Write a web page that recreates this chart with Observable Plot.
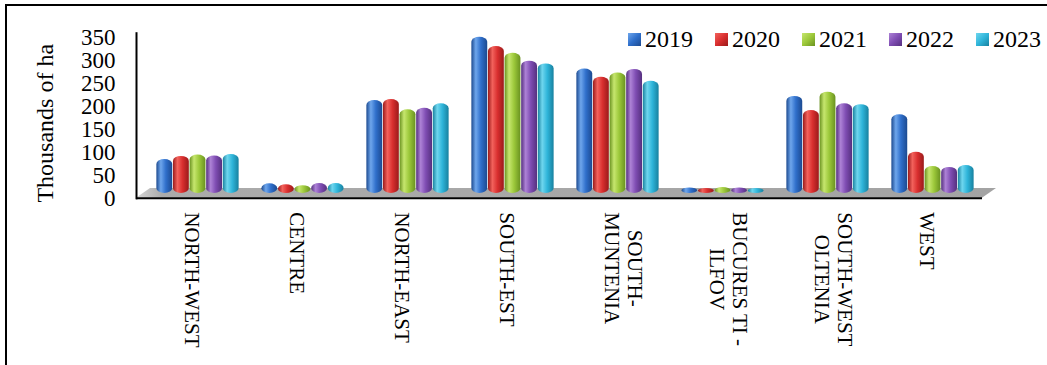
<!DOCTYPE html>
<html>
<head>
<meta charset="utf-8">
<script src="https://cdn.jsdelivr.net/npm/d3@7"></script>
<script src="https://cdn.jsdelivr.net/npm/@observablehq/plot@0.6"></script>
<style>
  html, body { margin: 0; padding: 0; background: #fff; }
  #wrap { position: relative; width: 1047px; height: 365px; overflow: hidden;
          font-family: "Liberation Serif", "Times New Roman", serif; }
  #chart { position: absolute; left: 0; top: 0; }
  #border { position: absolute; left: 5px; top: 4px; right: -10px; bottom: -10px;
            border-left: 2px solid #000; border-top: 2px solid #000; pointer-events: none; }
  #legend { position: absolute; left: 628px; top: 25px; height: 29px; display: flex; }
  .item { width: 87px; display: flex; align-items: center; font-size: 24px; color: #000; }
  .sw { width: 13px; height: 13px; margin-right: 4px; }
</style>
</head>
<body>
<div id="wrap">
  <div id="chart"></div>
  <div id="legend"></div>
  <div id="border"></div>
</div>
<script>
// Regions (line breaks as printed under the axis)
const regions = [
  "NORTH-WEST",
  "CENTRE",
  "NORTH-EAST",
  "SOUTH-EST",
  "SOUTH-\nMUNTENIA",
  "BUCURES TI -\nILFOV",
  "SOUTH-WEST\nOLTENIA",
  "WEST"
];
const years = ["2019", "2020", "2021", "2022", "2023"];

// Thousands of ha, one value per region
const v2019 = [74, 21, 203, 341, 272, 12, 212, 172];
const v2020 = [81, 19, 205, 321, 254, 11, 181, 90];
const v2021 = [84, 17, 183, 306, 263, 13, 221, 59];
const v2022 = [82, 22, 186, 289, 271, 12, 196, 57];
const v2023 = [85, 22, 196, 283, 245, 11, 194, 61];
const series = [v2019, v2020, v2021, v2022, v2023];

const yTicks = [0, 50, 100, 150, 200, 250, 300, 350];
const yLabel = "Thousands of ha";

// Cylinder shading per year: dark edge, highlight, body colour
const palette = [
  { dark: "#1c4a90", light: "#6ea6ec", base: "#2f6fcb" },
  { dark: "#9a1a1a", light: "#f2625c", base: "#d92f2f" },
  { dark: "#6a9220", light: "#c6e66e", base: "#9cc83a" },
  { dark: "#56307f", light: "#ad82d6", base: "#7f4db3" },
  { dark: "#18819f", light: "#6fd6ee", base: "#2fb5da" }
];

const rows = years.flatMap((year, j) =>
  regions.map((region, i) => ({ region, year, value: series[j][i] }))
);

// Layout
const W = 1047, H = 365;
const mLeft = 136, mRight = 65, mTop = 32.7, mBottom = 167.2;
const yMin = -10.5;            // front edge of the floor
const floorBack = 11;          // back edge of the floor
const floorSkew = 14;          // depth offset of the floor
const barW = 16.6, groupShift = 6;
const bandW = (W - mLeft - mRight) / regions.length;
const inset = (bandW - barW) / 2;

// Grey floor under the columns
function floor(index, scales, values, dims) {
  const x0 = dims.marginLeft, x1 = dims.width - dims.marginRight;
  const yb = scales.y(yMin), yt = scales.y(floorBack);
  return d3.create("svg:polygon")
    .attr("points", [[x0, yb], [x1, yb], [x1 + floorSkew, yt], [x0 + floorSkew, yt]].join(" "))
    .attr("fill", "url(#floorGrad)")
    .node();
}

const chart = Plot.plot({
  width: W,
  height: H,
  marginLeft: mLeft,
  marginRight: mRight,
  marginTop: mTop,
  marginBottom: mBottom,
  style: { fontFamily: "'Liberation Serif', 'Times New Roman', serif", color: "#000", background: "transparent", overflow: "visible" },
  x: { type: "band", domain: regions, padding: 0, axis: null },
  y: { domain: [yMin, 350], axis: null },
  marks: [
    floor,
    ...years.map((year, j) =>
      Plot.barY(rows.filter(d => d.year === year), {
        x: "region",
        y: "value",
        fill: `url(#cyl${j})`,
        insetLeft: inset,
        insetRight: inset,
        dx: (j - 2) * barW + groupShift,
        rx: barW / 2,
        ry: 5
      })
    ),
    Plot.ruleY([yMin], { stroke: "#000", strokeWidth: 2 }),
    Plot.frame({ anchor: "left", stroke: "#000", strokeWidth: 2 }),
    Plot.axisY({ ticks: yTicks, tickSize: 0, tickPadding: 21, dy: 4.7, fontSize: 23, tickFormat: d => String(d), label: null }),
    Plot.text([yLabel], { frameAnchor: "left", textAnchor: "middle", dx: -91, dy: 7.5, rotate: -90, fontSize: 24, fill: "#000" }),
    Plot.text(regions, { x: d => d, frameAnchor: "bottom", dx: -7, dy: 14, rotate: 90, textAnchor: "start", fontSize: 21, lineHeight: 1.1, fill: "#000" })
  ]
});

// Gradients for cylinders and floor
const defs = d3.select(chart).insert("defs", ":first-child");
palette.forEach((p, j) => {
  const g = defs.append("linearGradient").attr("id", `cyl${j}`)
    .attr("x1", 0).attr("x2", 1).attr("y1", 0).attr("y2", 0);
  [[0, p.dark], [0.28, p.light], [0.6, p.base], [1, p.dark]]
    .forEach(([o, c]) => g.append("stop").attr("offset", o).attr("stop-color", c));
});
const fg = defs.append("linearGradient").attr("id", "floorGrad")
  .attr("x1", 0).attr("x2", 1).attr("y1", 0).attr("y2", 0);
[[0, "#d6d6d6"], [0.03, "#ababab"], [1, "#a3a3a3"]]
  .forEach(([o, c]) => fg.append("stop").attr("offset", o).attr("stop-color", c));

document.getElementById("chart").appendChild(chart);

// Centre each line of the two-line region labels on the longest line
d3.select(chart).selectAll("text").each(function () {
  const spans = this.querySelectorAll("tspan");
  if (spans.length < 2) return;
  const lens = Array.from(spans, s => s.getComputedTextLength());
  const L = Math.max(...lens);
  spans.forEach((s, k) => s.setAttribute("x", (L - lens[k]) / 2));
});

// Legend
const legend = d3.select("#legend");
years.forEach((year, j) => {
  const p = palette[j];
  const item = legend.append("div").attr("class", "item");
  item.append("div").attr("class", "sw")
    .style("background", `linear-gradient(135deg, ${p.light} 0%, ${p.base} 50%, ${p.dark} 100%)`);
  item.append("span").text(year);
});
</script>
</body>
</html>
